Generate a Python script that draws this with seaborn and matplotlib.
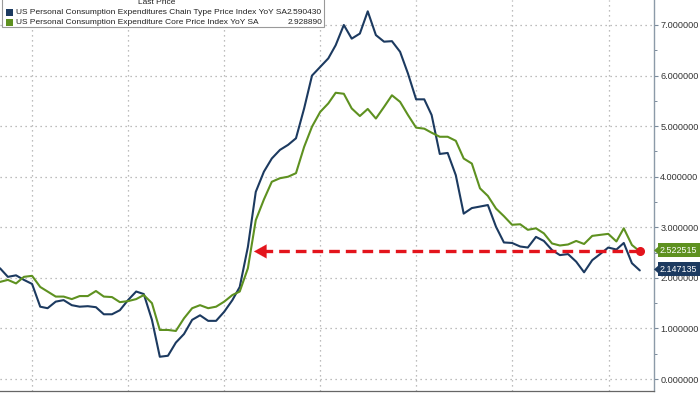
import numpy as np
import pandas as pd
import matplotlib
matplotlib.use("Agg")
import matplotlib.pyplot as plt
import matplotlib.dates as mdates
import seaborn as sns
from matplotlib.patches import Rectangle, Polygon
from matplotlib.ticker import MultipleLocator, FormatStrFormatter

# ---------------- data ----------------
start_month = "2018-08-31"
end_month = "2025-04-30"

headline = [2.19, 2.02, 2.05, 1.96, 1.88, 1.43, 1.40, 1.53, 1.56, 1.46,
            1.43, 1.44, 1.42, 1.28, 1.28, 1.36, 1.56, 1.73, 1.68, 1.17,
            0.44, 0.46, 0.72, 0.89, 1.17, 1.26, 1.15, 1.15, 1.33, 1.56,
            1.82, 2.61, 3.70, 4.10, 4.36, 4.53, 4.63, 4.76, 5.35, 6.00,
            6.17, 6.34, 6.60, 7.00, 6.73, 6.83, 7.27, 6.80, 6.67, 6.68,
            6.47, 6.04, 5.53, 5.53, 5.22, 4.45, 4.47, 4.03, 3.27, 3.38,
            3.41, 3.44, 3.01, 2.70, 2.69, 2.62, 2.60, 2.81, 2.73, 2.55,
            2.45, 2.47, 2.32, 2.11, 2.35, 2.47, 2.60, 2.56, 2.69, 2.29,
            2.147135]
core = [1.92, 1.96, 1.89, 2.02, 2.04, 1.82, 1.73, 1.63, 1.63, 1.58,
        1.64, 1.64, 1.74, 1.63, 1.62, 1.52, 1.54, 1.58, 1.66, 1.50,
        0.97, 0.97, 0.95, 1.20, 1.40, 1.46, 1.40, 1.43, 1.53, 1.66,
        1.73, 2.19, 3.14, 3.55, 3.90, 3.97, 4.00, 4.07, 4.59, 4.99,
        5.28, 5.45, 5.66, 5.64, 5.35, 5.20, 5.34, 5.15, 5.38, 5.61,
        5.48, 5.22, 4.97, 4.95, 4.87, 4.79, 4.79, 4.71, 4.36, 4.26,
        3.77, 3.62, 3.37, 3.22, 3.05, 3.06, 2.95, 2.98, 2.88, 2.68,
        2.64, 2.66, 2.73, 2.67, 2.83, 2.85, 2.87, 2.72, 2.98, 2.65,
        2.522515]

series_names = ["US Personal Consumption Expenditures Chain Type Price Index YoY SA",
                "US Personal Consumption Expenditure Core Price Index YoY SA"]
last_prices = ["2.590430", "2.928890"]
end_labels = ["2.147135", "2.522515"]
y_ticks = [0, 1, 2, 3, 4, 5, 6, 7]

# ---------------- styling ----------------
BLUE = "#1c3a60"
GREEN = "#5e9120"
RED = "#e3141c"
GRID = "#a8a8a8"

sns.set_style("white")
plt.rcParams["font.family"] = ["Liberation Sans", "DejaVu Sans"]

months = pd.date_range(start_month, end_month, freq="ME")
df = pd.DataFrame({"date": months, series_names[0]: headline, series_names[1]: core})
long = df.melt(id_vars="date", var_name="series", value_name="value")

W, H = 700, 394
fig = plt.figure(figsize=(W / 100, H / 100), dpi=100)
ax = fig.add_axes([0, 3 / H, 654 / W, 391 / H])

sns.lineplot(data=long, x="date", y="value", hue="series",
             palette={series_names[0]: BLUE, series_names[1]: GREEN},
             hue_order=series_names, legend=False, lw=1.5, ax=ax)

x0 = pd.Timestamp(start_month)
ax.set_xlim(x0, x0 + pd.Timedelta(days=2488))
ax.set_ylim(-0.237, 7.494)

# axes / ticks
ax.yaxis.tick_right()
ax.yaxis.set_major_locator(plt.FixedLocator(y_ticks))
ax.yaxis.set_minor_locator(MultipleLocator(0.5))
ax.yaxis.set_major_formatter(FormatStrFormatter("%.6f"))
ax.tick_params(axis="y", which="major", length=3, width=0.8, color="#7a8a9a",
               labelsize=6.6, labelcolor="#333333", pad=1.5)
ax.tick_params(axis="y", which="minor", length=2, width=0.7, color="#7a8a9a")
ax.xaxis.set_major_locator(mdates.YearLocator())
ax.xaxis.set_minor_locator(mdates.MonthLocator(bymonth=[4, 7, 10]))
ax.tick_params(axis="x", which="major", length=4, width=0.8, color="#555555",
               labelbottom=False)
ax.tick_params(axis="x", which="minor", length=3, width=0.8, color="#555555")
ax.set_xlabel("")
ax.set_ylabel("")

ax.grid(axis="y", which="major", linestyle=(0, (1, 3)), color=GRID, lw=0.9)
ax.grid(axis="x", which="major", linestyle=(0, (1, 3)), color=GRID, lw=0.9)
for s in ["top", "left"]:
    ax.spines[s].set_visible(False)
ax.spines["right"].set_color("#8c9aa8")
ax.spines["right"].set_linewidth(1.0)
ax.spines["bottom"].set_color("#666666")
ax.spines["bottom"].set_linewidth(0.9)

# red dashed arrow at latest core level
level = core[-1]
tip = x0 + pd.Timedelta(days=int(254 / 0.2628))
ax.plot([tip + pd.Timedelta(days=30), months[-1]], [level, level], color=RED,
        lw=2.4, linestyle=(0, (3.2, 1.8)), zorder=5, solid_capstyle="butt")
ax.annotate("", xy=(tip, level), xytext=(tip + pd.Timedelta(days=45), level),
            arrowprops=dict(arrowstyle="-|>,head_length=0.9,head_width=0.5",
                            color=RED, lw=0.1, shrinkA=0, shrinkB=0), zorder=6)
ax.plot([months[-1]], [level], "o", color=RED, ms=5.5, zorder=6)

# right-side end value labels
def ypix(v):
    return 379 - 50.57 * v

for val_txt, val, col in [(end_labels[1], core[-1], GREEN), (end_labels[0], headline[-1], BLUE)]:
    yc = ypix(val) - 1.0
    fig.patches.append(Rectangle((658 / W, 1 - (yc + 7) / H), 42 / W, 14 / H,
                                 transform=fig.transFigure, fc=col, ec="none", zorder=8))
    fig.patches.append(Polygon([(654 / W, 1 - yc / H), (658.5 / W, 1 - (yc - 4) / H),
                                (658.5 / W, 1 - (yc + 4) / H)], closed=True,
                               transform=fig.transFigure, fc=col, ec="none", zorder=8))
    fig.text(660 / W, 1 - yc / H, val_txt, color="white", fontsize=6.4,
             va="center", ha="left", zorder=9)

# legend box
fig.patches.append(Rectangle((2 / W, 1 - 27 / H), 322 / W, 40 / H,
                             transform=fig.transFigure, fc="white", ec="#9a9a9a",
                             lw=0.8, zorder=10))
fig.text(157 / W, 1 - 2.5 / H, "Last Price", fontsize=6.0, ha="center", va="center",
         color="#222222", zorder=11)
for i, (name, col, lp) in enumerate(zip(series_names, [BLUE, GREEN], last_prices)):
    yc = 12 + 10 * i
    fig.patches.append(Rectangle((6 / W, 1 - (yc + 3.5) / H), 7 / W, 7 / H,
                                 transform=fig.transFigure, fc=col, ec="none", zorder=11))
    fig.text(16 / W, 1 - yc / H, name, fontsize=6.0, ha="left", va="center",
             color="#222222", zorder=11)
    fig.text(322 / W, 1 - yc / H, lp, fontsize=6.0, ha="right", va="center",
             color="#222222", zorder=11)

fig.savefig("out.png", dpi=100)
